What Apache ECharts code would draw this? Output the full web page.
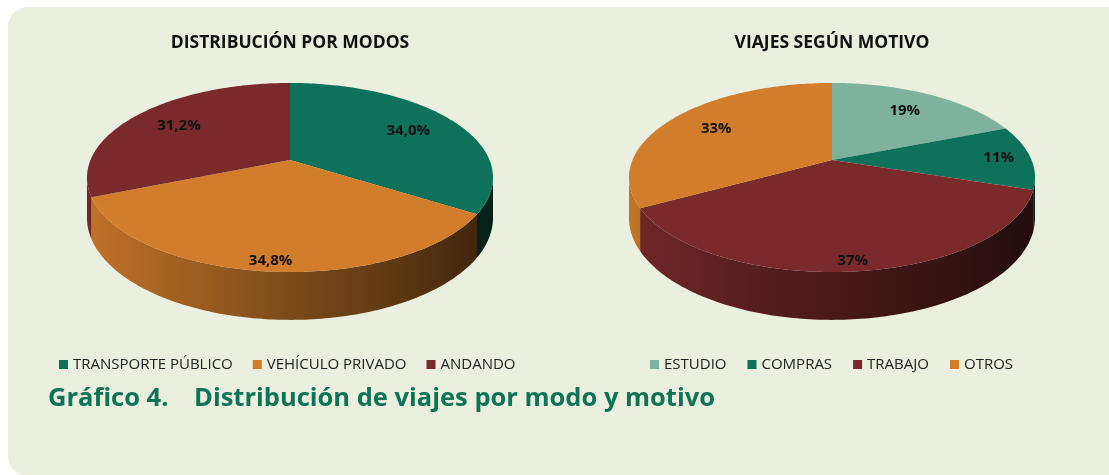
<!DOCTYPE html>
<html>
<head>
<meta charset="utf-8">
<script src="https://cdn.jsdelivr.net/npm/echarts@6/dist/echarts.min.js"></script>
<style>
html,body{margin:0;padding:0;background:#fff}
#container{width:1109px;height:475px}
</style>
</head>
<body>
<div id="container"></div>
<script>
var modeNames = ['TRANSPORTE PÚBLICO', 'VEHÍCULO PRIVADO', 'ANDANDO'];
var modeValues = [34.0, 34.8, 31.2];
var modeColors = ['#0e7159', '#d27d2c', '#7b2a2c'];

var motiveNames = ['ESTUDIO', 'COMPRAS', 'TRABAJO', 'OTROS'];
var motiveValues = [19, 11, 37, 33];
var motiveColors = ['#7eb29f', '#0e7159', '#7b2a2c', '#d27d2c'];

var FONT = '"Open Sans", sans-serif';

// pseudo-3d pie: tilted disc with a bit of perspective
var leftPie = {cx: 290, cy: 160, a: 91.3, b: 199.5, p: 0.185, depth: 39};
var rightPie = {cx: 832, cy: 160, a: 91.3, b: 199.5, p: 0.185, depth: 39};

function proj(g, t, r, drop) {
	var u = r * Math.sin(t), v = -r * Math.cos(t);
	var w = 1 - g.p * v;
	return [g.cx + g.b * u / w, g.cy + g.a * v / w + (drop ? g.depth / w : 0)];
}

function shade(hex, f) {
	var n = parseInt(hex.slice(1), 16);
	var r = Math.round(((n >> 16) & 255) * f),
		gg = Math.round(((n >> 8) & 255) * f),
		b = Math.round((n & 255) * f);
	return 'rgb(' + r + ',' + gg + ',' + b + ')';
}

function sliceRender(g, values, idx, color, fmt) {
	return function(params, api) {
		var total = 0, before = 0;
		for (var i = 0; i < values.length; i++) {
			total += values[i];
			if (i < idx) before += values[i];
		}
		var val = api.value(0);
		var share = val / total;
		var t1 = before / total * Math.PI * 2;
		var t2 = (before + val) / total * Math.PI * 2;
		var step = Math.PI / 180;
		var children = [];

		// outer wall (front half only)
		var f1 = Math.acos(-g.p), f2 = Math.PI * 2 - f1;
		var s1 = Math.max(t1, f1), s2 = Math.min(t2, f2);
		if (s2 > s1) {
			var wall = [], t;
			for (t = s1; t < s2; t += step) wall.push(proj(g, t, 1, false));
			wall.push(proj(g, s2, 1, false));
			wall.push(proj(g, s2, 1, true));
			for (t = s2; t > s1; t -= step) wall.push(proj(g, t, 1, true));
			wall.push(proj(g, s1, 1, true));
			children.push({
				type: 'polygon',
				shape: {points: wall},
				z2: 1,
				style: {
					fill: new echarts.graphic.LinearGradient(g.cx - 203, 0, g.cx + 203, 0, [
						{offset: 0, color: shade(color, 0.92)},
						{offset: 0.45, color: shade(color, 0.62)},
						{offset: 0.8, color: shade(color, 0.42)},
						{offset: 1, color: shade(color, 0.28)}
					], true)
				}
			});
		}

		// top face
		var top = [[g.cx, g.cy]];
		for (var tt = t1; tt < t2; tt += step) top.push(proj(g, tt, 1, false));
		top.push(proj(g, t2, 1, false));
		children.push({
			type: 'polygon',
			shape: {points: top},
			z2: 5,
			style: {fill: color}
		});

		// label: front labels and thin slices sit further out
		var mid = (t1 + t2) / 2;
		var lr = 0.72 + 0.2 * Math.max(0, -Math.cos(mid)) + (share < 0.15 ? 0.12 : 0);
		var lp = proj(g, mid, lr, false);
		children.push({
			type: 'text',
			x: lp[0],
			y: lp[1],
			z2: 10,
			style: {
				text: fmt(val),
				font: 'bold 15px ' + FONT,
				fill: '#111',
				align: 'center',
				verticalAlign: 'middle'
			}
		});
		return {type: 'group', children: children};
	};
}

var series = [];
modeNames.forEach(function(name, i) {
	series.push({
		type: 'custom',
		name: name,
		coordinateSystem: 'none',
		silent: true,
		animation: false,
		itemStyle: {color: modeColors[i]},
		data: [[modeValues[i]]],
		renderItem: sliceRender(leftPie, modeValues, i, modeColors[i], function(v) {
			return v.toFixed(1).replace('.', ',') + '%';
		})
	});
});
motiveNames.forEach(function(name, i) {
	series.push({
		type: 'custom',
		name: name,
		coordinateSystem: 'none',
		silent: true,
		animation: false,
		itemStyle: {color: motiveColors[i]},
		data: [[motiveValues[i]]],
		renderItem: sliceRender(rightPie, motiveValues, i, motiveColors[i], function(v) {
			return v.toFixed(0) + '%';
		})
	});
});

var dom = document.getElementById('container');
var myChart = echarts.init(dom);
var option = {
	animation: false,
	graphic: [
		{
			type: 'rect',
			z: -10,
			shape: {x: 8, y: 7, width: 1120, height: 469, r: [20, 20, 0, 20]},
			style: {fill: '#eaefdf'}
		},
		{
			type: 'text',
			x: 290, y: 43,
			style: {text: 'DISTRIBUCIÓN POR MODOS', font: 'bold 17.5px ' + FONT, fill: '#111', align: 'center', verticalAlign: 'middle'}
		},
		{
			type: 'text',
			x: 832, y: 43,
			style: {text: 'VIAJES SEGÚN MOTIVO', font: 'bold 17.5px ' + FONT, fill: '#111', align: 'center', verticalAlign: 'middle'}
		},
		{
			type: 'text',
			x: 48, y: 399,
			style: {text: 'Gráfico 4.', font: 'bold 25.5px ' + FONT, fill: '#0f7358', align: 'left', verticalAlign: 'middle'}
		},
		{
			type: 'text',
			x: 194, y: 399,
			style: {text: 'Distribución de viajes por modo y motivo', font: 'bold 25.5px ' + FONT, fill: '#0f7358', align: 'left', verticalAlign: 'middle'}
		}
	],
	legend: [
		{
			data: modeNames,
			left: 54, top: 352,
			icon: 'rect', itemWidth: 9, itemHeight: 9, itemGap: 20, itemStyle: {borderWidth: 0},
			textStyle: {fontSize: 15, color: '#222', fontFamily: FONT}
		},
		{
			data: motiveNames,
			left: 645, top: 352,
			icon: 'rect', itemWidth: 9, itemHeight: 9, itemGap: 21, itemStyle: {borderWidth: 0},
			textStyle: {fontSize: 15, color: '#222', fontFamily: FONT}
		}
	],
	series: series
};
if (option && typeof option === 'object') {
	myChart.setOption(option, true);
}
</script>
</body>
</html>
